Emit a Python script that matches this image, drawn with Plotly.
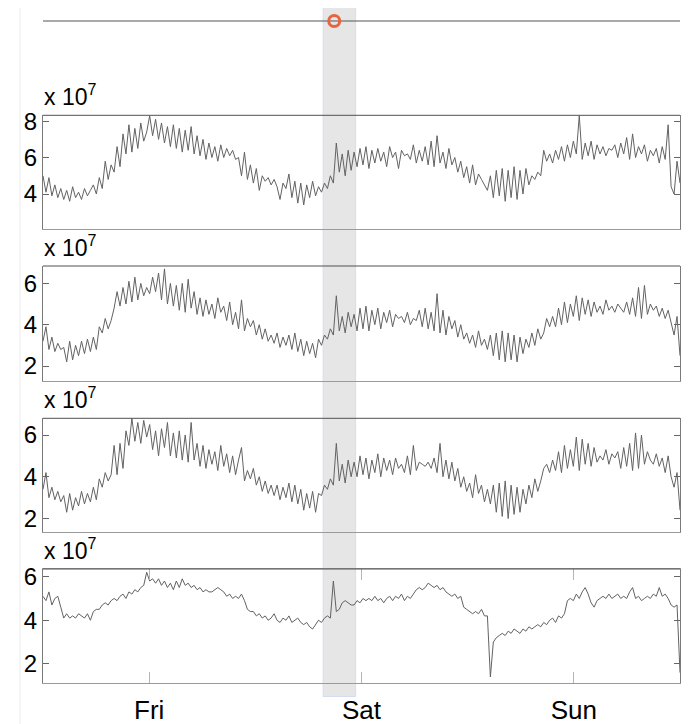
import pandas as pd
import plotly.graph_objects as go

# ---------------- data (values in units of 1e7) ----------------
start_time = "2024-01-04 12:00"
end_time = "2024-01-07 12:00"

panel1 = [5.0, 4.1, 4.9, 3.9, 4.5, 3.8, 4.3, 3.7, 4.2, 3.6, 4.4, 3.8, 4.1, 3.7, 4.3, 3.9, 4.2,
          4.5, 4.0, 4.9, 4.3, 5.8, 4.8, 5.6,
          5.2, 6.6, 5.5, 7.3, 6.2, 7.8, 6.3, 7.6, 6.5, 7.9, 6.9,
          7.4, 8.3, 7.2, 8.1, 7.0,
          7.9, 6.8, 7.7, 6.6, 7.8, 6.5, 7.6, 6.3, 7.5, 6.4, 7.7, 6.2, 7.2, 6.1,
          7.0, 5.9, 6.8, 6.0, 6.6, 5.8, 6.7, 6.0, 6.5, 6.1, 6.4, 5.9, 6.0,
          5.0, 6.3, 4.8, 5.6,
          4.6, 5.4, 4.2, 5.0, 4.7, 4.9, 4.5,
          4.8, 4.4, 3.7, 4.6, 4.3, 5.1, 3.8, 4.7, 3.5, 4.6,
          3.4, 4.5, 3.8, 4.7, 3.9, 4.4, 4.1,
          4.6, 4.3, 5.0, 4.6, 6.8, 5.2, 6.2, 5.0, 6.4, 5.3, 6.3,
          5.5, 6.5, 5.6, 6.6, 5.4, 6.4, 5.7, 6.5, 5.8, 6.3, 5.5, 6.6, 6.0, 6.3, 5.4, 6.4, 6.1, 6.2, 5.9, 6.7, 5.7, 6.4,
          5.8, 6.6, 5.6, 6.9, 5.5, 7.2, 5.7, 6.3, 5.4, 6.5,
          5.6, 6.0, 5.2, 5.8, 4.9, 5.5, 4.6, 5.6, 4.5, 5.1, 4.8,
          4.5, 4.2, 5.0, 3.8, 5.3, 3.9, 5.4, 3.6, 5.3, 3.8, 5.5, 3.7, 5.3, 4.0, 5.4, 4.5,
          5.0, 4.8, 5.2, 5.0, 6.4, 5.8, 6.2,
          5.7, 6.4, 5.9, 6.6, 5.8, 6.7, 6.0, 6.9, 6.2, 8.3, 5.9, 6.8, 6.1, 6.9, 5.9, 6.7, 6.2,
          6.6, 6.1, 6.5, 6.4, 6.7, 6.0, 6.8, 6.2, 7.1, 5.9, 7.3, 6.0, 6.6, 6.2, 6.7, 5.8, 6.4,
          6.1, 6.5, 5.7, 6.6, 5.9, 7.8, 4.4,
          4.0, 5.8, 4.6]

panel2 = [3.2, 3.9, 2.8, 3.4, 2.7, 3.1, 2.8, 2.9, 2.2, 3.2, 2.3, 3.0, 2.5, 3.2, 2.6, 3.3, 2.7,
          3.4, 2.8, 3.9, 3.6, 4.3, 3.8, 4.2,
          4.8, 5.6, 4.9, 5.8, 5.0, 6.1, 5.1, 6.3, 5.2, 6.0, 5.4,
          5.8, 5.5, 6.3, 5.6, 6.5,
          5.2, 6.7, 5.0, 6.0, 4.9, 5.9, 4.7, 6.0, 4.6, 6.2, 4.8, 5.6, 4.5, 5.3,
          4.4, 5.2, 4.5, 5.0, 4.3, 5.3, 4.6, 4.9, 4.2, 5.1, 4.0, 4.6, 3.8,
          5.2, 3.7, 4.3, 3.9,
          4.2, 3.5, 4.0, 3.3, 3.8, 3.2, 3.5,
          3.1, 3.6, 2.9, 3.4, 3.0, 3.5, 2.8, 3.6, 2.7, 3.3,
          2.5, 3.2, 2.6, 3.1, 2.4, 3.3, 3.0,
          3.5, 3.3, 3.8, 3.5, 5.4, 3.7, 4.4, 3.6, 4.6, 3.9, 4.5,
          3.7, 4.8, 3.8, 4.9, 3.7, 4.7, 4.0, 4.8, 3.8, 4.6, 4.1, 4.7, 3.9, 4.5, 4.3, 4.4, 4.1, 4.6, 4.0, 4.3, 4.2, 4.7,
          3.9, 4.8, 3.8, 4.6, 3.7, 5.5, 3.6, 4.7, 3.5, 4.4,
          3.8, 4.2, 3.4, 4.0, 3.3, 3.6, 3.1, 3.5, 2.9, 3.7, 3.0,
          3.3, 2.8, 3.5, 2.5, 3.6, 2.3, 3.7, 2.2, 3.6, 2.3, 3.5, 2.2, 3.4, 2.6, 3.3, 2.9,
          3.6, 3.0, 3.8, 3.3, 3.6, 4.3, 3.9,
          4.4, 3.9, 4.8, 4.0, 5.1, 4.1, 5.0, 4.4, 5.4, 4.2, 5.3, 4.5, 5.2, 4.4, 5.1, 4.6, 4.9,
          4.5, 5.2, 4.7, 4.9, 4.6, 5.0, 4.8, 4.6, 5.1, 4.5, 5.3, 4.4, 5.8, 4.3, 5.9, 4.5, 5.0,
          4.7, 4.9, 4.4, 4.8, 4.3, 4.7, 4.1,
          3.5, 4.4, 2.5]

panel3 = [3.4, 4.2, 3.0, 3.5, 2.9, 3.3, 2.8, 3.1, 2.3, 3.2, 2.4, 3.0, 2.6, 3.3, 2.7, 3.2, 2.8,
          3.5, 2.9, 3.9, 3.5, 4.2, 3.8, 4.1,
          5.5, 4.1, 5.6, 4.4, 6.2, 5.5, 6.8, 5.7, 6.6, 5.6, 6.7,
          5.9, 6.5, 5.3, 6.2, 5.0,
          6.3, 5.4, 6.6, 5.0, 6.1, 4.9, 6.2, 4.8, 6.0, 4.7, 6.6, 4.8, 5.6, 4.5,
          5.5, 4.4, 5.3, 4.6, 5.2, 4.3, 5.5, 4.5, 5.1, 4.2, 5.0, 4.1, 4.8,
          5.4, 3.8, 4.3, 3.9,
          4.4, 3.6, 4.0, 3.3, 3.8, 3.2, 3.6,
          3.1, 3.6, 2.9, 3.5, 3.0, 3.7, 2.8, 3.6, 2.7, 3.4,
          2.4, 3.2, 2.5, 3.3, 2.3, 3.2, 3.1,
          3.6, 3.4, 3.9, 3.6, 5.6, 3.8, 4.6, 3.7, 4.8, 4.0, 4.7,
          4.0, 5.0, 4.1, 4.9, 3.9, 4.8, 4.2, 5.1, 4.0, 4.9, 4.3, 4.8, 4.1, 4.9, 4.4, 4.6, 4.2, 5.0, 4.1, 5.5, 4.3, 4.7,
          4.6, 4.5, 4.7, 4.4, 4.9, 4.2, 5.6, 4.0, 4.8, 3.9,
          4.7, 3.8, 4.4, 3.5, 4.0, 3.3, 3.7, 3.0, 4.1, 3.2, 3.6,
          2.8, 3.4, 2.7, 3.6, 2.3, 3.7, 2.1, 3.8, 2.0, 3.6, 2.2, 3.5, 2.3, 3.4, 2.7, 3.6,
          3.0, 3.9, 3.3, 3.8, 4.4, 4.6, 4.2,
          4.8, 4.3, 5.2, 4.2, 5.5, 4.4, 5.3, 4.5, 5.9, 4.3, 5.8, 4.6, 5.6, 4.5, 5.4, 4.7, 5.0,
          4.8, 5.3, 4.6, 5.1, 4.9, 5.2, 4.4, 5.4, 4.5, 5.6, 4.3, 6.1, 4.4, 6.0, 4.6, 5.2, 4.8,
          4.6, 5.1, 4.5, 4.9, 4.2, 5.0, 4.0,
          3.5, 4.2, 2.4]

panel4 = [5.1, 4.9, 5.3, 4.7, 5.0, 5.1, 4.6, 4.1,
          4.3, 4.1, 4.2, 4.1, 4.3, 4.2, 4.1, 4.3, 4.0,
          4.4, 4.5, 4.5,
          4.7, 4.8, 4.7, 4.9,
          5.0, 4.9, 5.1, 5.2, 5.0,
          5.3, 5.2, 5.4, 5.3, 5.5,
          5.6, 6.2,
          5.8, 5.9, 5.7, 5.9, 5.6, 5.8,
          5.5, 5.7, 5.4, 5.8, 5.5, 5.9, 5.6, 5.7, 5.5, 5.6, 5.4, 5.5,
          5.3, 5.4, 5.3, 5.3, 5.4,
          5.5, 5.4, 5.3,
          5.1, 5.2, 5.0, 5.1,
          5.0, 5.2, 4.9,
          4.5, 4.4, 4.4,
          4.2, 4.3, 4.1, 4.2, 4.0,
          4.1, 4.3, 4.0, 3.9, 4.1, 4.0, 4.2, 3.9, 4.0, 4.1, 3.9,
          3.8, 3.9, 3.7, 3.6, 3.8,
          4.0, 3.9, 4.1,
          4.2, 4.1, 5.8, 4.4, 4.5, 4.8, 4.9, 4.8, 4.7,
          4.7, 4.9, 4.8, 5.0, 4.9,
          5.0, 4.9, 5.1, 4.9, 5.0, 4.8, 5.0, 5.1,
          4.9, 5.1, 5.0, 5.2, 4.9, 5.1, 5.0, 5.2, 5.4,
          5.5, 5.4, 5.5, 5.7,
          5.6, 5.5, 5.6, 5.4, 5.5,
          5.3, 5.2, 5.1, 5.2, 5.0,
          5.1, 4.6,
          4.5, 4.4, 4.3, 4.4,
          4.3, 4.5, 4.2,
          4.2, 1.4, 3.0,
          3.2, 3.3, 3.4, 3.3, 3.5, 3.4,
          3.6, 3.5, 3.4, 3.6, 3.5, 3.7, 3.6, 3.7, 3.8,
          3.7, 3.9, 3.8, 4.0, 4.1,
          3.9, 4.2, 4.1,
          4.3, 4.9,
          5.0, 4.9, 5.2, 5.0, 5.3,
          5.5, 5.2,
          4.8, 4.6,
          4.9, 5.0, 5.1, 5.0, 5.2, 5.0, 5.1, 5.2, 5.0, 5.1,
          5.0, 5.3, 5.5,
          5.0, 5.1, 4.9, 5.0, 5.1,
          5.0, 5.2, 5.1, 5.5,
          5.1, 5.2, 5.0,
          4.7, 4.6, 4.7, 1.6]

event_times = ["2024-01-05 20:55"]
event_levels = [0]
band_start = "2024-01-05 19:40"
band_end = "2024-01-05 23:20"

day_ticks = ["2024-01-05", "2024-01-06", "2024-01-07"]
day_labels = ["Fri", "Sat", "Sun"]
panel_yticks = [[4, 6, 8], [2, 4, 6], [2, 4, 6], [2, 4, 6]]

# ---------------- layout helpers ----------------
OFF = 8                      # page body margin of the html page
W, H = 694 - OFF, 724 - OFF
FONT = "Liberation Sans Narrow, Arial Narrow, Liberation Sans, Arial, sans-serif"


def py(p):
    """page pixel (from top) -> paper fraction"""
    return 1 - (p - OFF) / H


PLOT_W = 637
panels = [panel1, panel2, panel3, panel4]
domains = [(229.0, 115.3), (380.7, 266.0), (531.7, 418.3), (683.3, 569.0)]
ranges = [[2.08, 8.32], [1.29, 6.84], [1.37, 6.80], [1.11, 6.35]]
LINE = "#626262"

fig = go.Figure()

for k, vals in enumerate(panels, start=1):
    t = pd.date_range(start_time, end_time, periods=len(vals))
    fig.add_trace(go.Scatter(x=t, y=vals, mode="lines",
                             line=dict(color=LINE, width=1),
                             xaxis=f"x{k}", yaxis=f"y{k}", showlegend=False,
                             hoverinfo="skip"))

# top strip: event marker on a flat line
fig.add_trace(go.Scatter(x=[start_time, end_time], y=[0, 0], mode="lines",
                         line=dict(color="#555555", width=1),
                         xaxis="x5", yaxis="y5", showlegend=False, hoverinfo="skip"))
fig.add_trace(go.Scatter(x=event_times, y=event_levels, mode="markers",
                         marker=dict(symbol="circle-open", size=11, color="#e8643f",
                                     line=dict(width=3, color="#e8643f")),
                         xaxis="x5", yaxis="y5", showlegend=False))

layout = dict(width=W, height=H, autosize=False,
              margin=dict(l=43 - OFF, r=W - (680 - OFF), t=0, b=0),
              paper_bgcolor="white", plot_bgcolor="rgba(0,0,0,0)",
              font=dict(family=FONT, size=22, color="black"),
              showlegend=False)

for k in range(1, 5):
    bot, top = domains[k - 1]
    is_last = (k == 4)
    layout[f"xaxis{k}"] = dict(
        domain=[0, 1], anchor=f"y{k}", type="date",
        range=[start_time, end_time], showgrid=False, zeroline=False,
        showline=True, linecolor="#9a9a9a", linewidth=1,
        mirror="ticks" if is_last else False,
        ticks="inside" if is_last else "", ticklen=11, tickcolor="#b5b5b5",
        tickmode="array", tickvals=day_ticks, ticktext=day_labels,
        showticklabels=is_last, tickfont=dict(size=26, family=FONT),
        ticklabelstandoff=3, automargin=False,
        matches=None if k == 1 else "x1")
    layout[f"yaxis{k}"] = dict(
        domain=[py(bot), py(top)], anchor=f"x{k}", range=ranges[k - 1],
        showgrid=False, zeroline=False, showline=True, linecolor="#7a7a7a",
        linewidth=1, mirror="ticks", ticks="inside", ticklen=6, tickcolor="#666666",
        tickmode="array", tickvals=panel_yticks[k - 1],
        tickfont=dict(size=24, family=FONT), automargin=False)

layout["xaxis5"] = dict(domain=[0, 1], anchor="y5", type="date",
                        range=[start_time, end_time], visible=False,
                        matches="x1")
layout["yaxis5"] = dict(domain=[py(31), py(11)], anchor="x5", range=[-1, 1],
                        visible=False)

shapes = [
    # highlighted time window spanning all panels
    dict(type="rect", xref="x1", yref="paper", x0=band_start, x1=band_end,
         y0=py(696.5), y1=py(7.5), fillcolor="#e6e6e6",
         line=dict(color="#d5dbf3", width=1), layer="below"),
    # faint frame line on the left
    dict(type="line", xref="paper", yref="paper", x0=-23 / PLOT_W, x1=-23 / PLOT_W,
         y0=0, y1=1, line=dict(color="#ececec", width=1)),
]
for bot, top in domains:
    shapes.append(dict(type="line", xref="paper", yref="paper", x0=0, x1=1,
                       y0=py(top), y1=py(top), line=dict(color="#505050", width=1)))
layout["shapes"] = shapes

annotations = []
for bot, top in domains:
    annotations.append(dict(text="x 10<sup>7</sup>", xref="paper", yref="paper",
                            x=-0.002, y=py(top - 3), xanchor="left", yanchor="bottom",
                            showarrow=False, font=dict(size=23, family=FONT)))
layout["annotations"] = annotations

fig.update_layout(**layout)
fig.write_html("out.html")
